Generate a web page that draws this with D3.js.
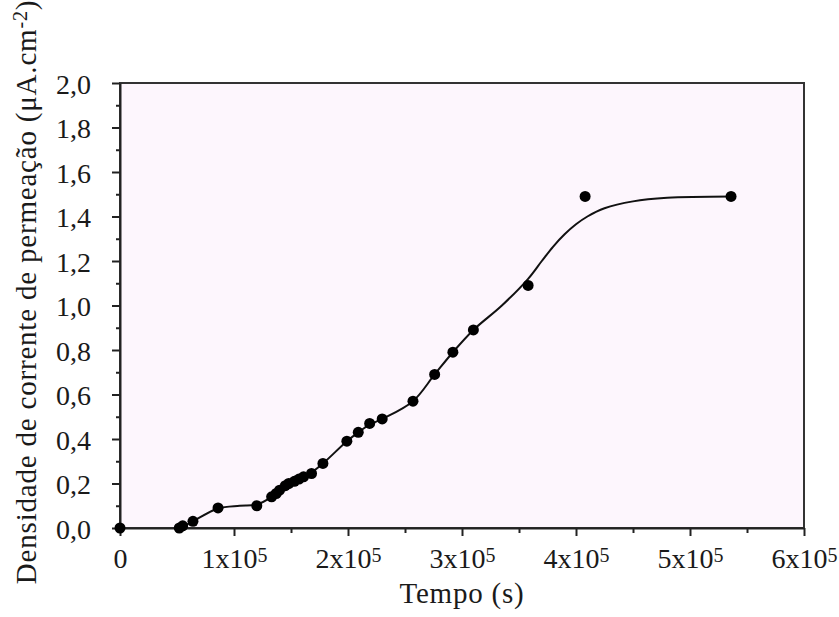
<!DOCTYPE html>
<meta charset="utf-8">

<style>

body {
  margin: 0;
  background: #fff;
}

text {
  font-family: "Liberation Serif", "Times New Roman", serif;
  fill: #1a1a1a;
}

.plotBg {
  fill: #fdf6fd;
  stroke: #333;
  stroke-width: 2;
}

.axis path, .axis line {
  stroke: #222;
  stroke-width: 2;
}

.ajuste {
  fill: none;
  stroke: #111;
  stroke-width: 2;
}

.titulo {
  font-size: 29px;
  letter-spacing: 0.8px;
}

</style>

<svg id="chart"></svg>

<script src="https://cdn.jsdelivr.net/npm/d3@7"></script>

<script type="text/javascript">

// pontos medidos (tempo em s, densidade em uA.cm-2)
const tempo = [0, 52000, 55000, 64000, 86000, 120000, 133000, 137000, 140000, 145000,
  148000, 153000, 157000, 161000, 168000, 178000, 199000, 209000, 219000, 230000,
  257000, 276000, 292000, 310000, 358000, 408000, 536000]
const densidade = [0, 0, 0.01, 0.03, 0.09, 0.10, 0.14, 0.155, 0.17, 0.19,
  0.20, 0.21, 0.22, 0.23, 0.245, 0.29, 0.39, 0.43, 0.47, 0.49,
  0.57, 0.69, 0.79, 0.89, 1.09, 1.49, 1.49]

// curva ajustada
const ajusteTempo = [53000, 64000, 86000, 105000, 120000, 133000, 145000, 157000, 168000, 178000,
  199000, 209000, 219000, 230000, 257000, 276000, 292000, 310000, 335000, 358000,
  370000, 380000, 390000, 400000, 410000, 425000, 450000, 480000, 536000]
const ajusteDensidade = [0, 0.03, 0.088, 0.10, 0.105, 0.14, 0.19, 0.22, 0.25, 0.29,
  0.39, 0.43, 0.465, 0.49, 0.57, 0.69, 0.79, 0.89, 1.0, 1.12,
  1.2, 1.265, 1.32, 1.365, 1.40, 1.437, 1.468, 1.484, 1.49]

const xTicks = [0, 1e5, 2e5, 3e5, 4e5, 5e5, 6e5]
const xTickBase = ["0", "1x10", "2x10", "3x10", "4x10", "5x10", "6x10"]
const xTickExp = ["", "5", "5", "5", "5", "5", "5"]
const xMinorTicks = [0.5e5, 1.5e5, 2.5e5, 3.5e5, 4.5e5, 5.5e5]
const yTicks = [0, 0.2, 0.4, 0.6, 0.8, 1.0, 1.2, 1.4, 1.6, 1.8, 2.0]
const yMinorTicks = [0.1, 0.3, 0.5, 0.7, 0.9, 1.1, 1.3, 1.5, 1.7, 1.9]

const margin = {top: 83, right: 35, bottom: 89, left: 120},
    width = 839 - margin.left - margin.right,
    height = 617 - margin.top - margin.bottom

const svg = d3.select("#chart")
    .attr("width", 839)
    .attr("height", 617)

const g = svg.append("g")
    .attr("transform", `translate(${margin.left}, ${margin.top})`)

const x = d3.scaleLinear()
  .domain([0, 6e5])
  .range([0, width])

const y = d3.scaleLinear()
  .domain([0, 2])
  .range([height, 0])

g.append("rect")
    .attr("class", "plotBg")
    .attr("width", width)
    .attr("height", height)

//minor ticks
g.append("g")
    .attr("class", "axis")
    .attr("transform", `translate(0, ${height})`)
    .call(d3.axisBottom(x).tickValues(xMinorTicks).tickSize(5).tickFormat(""))
    .select(".domain").remove()

g.append("g")
    .attr("class", "axis")
    .call(d3.axisLeft(y).tickValues(yMinorTicks).tickSize(4).tickFormat(""))
    .select(".domain").remove()

//major ticks
const xAxis = g.append("g")
    .attr("class", "axis")
    .attr("transform", `translate(0, ${height})`)
    .call(d3.axisBottom(x).tickValues(xTicks).tickSize(8).tickSizeOuter(0).tickFormat(""))

xAxis.selectAll(".tick text").remove()
xAxis.selectAll(".tick")
  .append("text")
    .attr("y", 40)
    .attr("text-anchor", "middle")
    .style("font-size", "28px")
    .each(function(d, i) {
      const t = d3.select(this)
      t.append("tspan").text(xTickBase[i])
      if (xTickExp[i]) {
        t.append("tspan")
          .attr("dy", -6)
          .style("font-size", "20px")
          .text(xTickExp[i])
      }
    })

g.append("g")
    .attr("class", "axis")
    .call(d3.axisLeft(y).tickValues(yTicks).tickSize(8).tickSizeOuter(0).tickPadding(21)
      .tickFormat(d3.format(".1f")))
  .selectAll(".tick text")
    .style("font-size", "28px")
    .attr("dy", "0.36em")
    .text(d => d3.format(".1f")(d).replace(".", ","))

//curve
const line = d3.line()
  .x(d => x(d[0]))
  .y(d => y(d[1]))
  .curve(d3.curveCatmullRom.alpha(0.5))

g.append("path")
    .attr("class", "ajuste")
    .attr("d", line(ajusteTempo.map((t, i) => [t, ajusteDensidade[i]])))

//points
g.selectAll(".ponto")
  .data(tempo.map((t, i) => [t, densidade[i]]))
  .enter().append("circle")
    .attr("class", "ponto")
    .attr("cx", d => x(d[0]))
    .attr("cy", d => y(d[1]))
    .attr("r", 5.5)
    .attr("fill", "#000")

//axis titles
g.append("text")
    .attr("class", "titulo")
    .attr("x", width / 2)
    .attr("y", height + 75)
    .attr("text-anchor", "middle")
    .text("Tempo (s)")

const yTitle = svg.append("text")
    .attr("class", "titulo")
    .attr("transform", "translate(36, 292) rotate(-90)")
    .attr("text-anchor", "middle")
yTitle.append("tspan").text("Densidade de corrente de permeação (μA.cm")
yTitle.append("tspan").attr("dy", -9).style("font-size", "20px").text("-2")
yTitle.append("tspan").attr("dy", 9).text(")")

</script>
